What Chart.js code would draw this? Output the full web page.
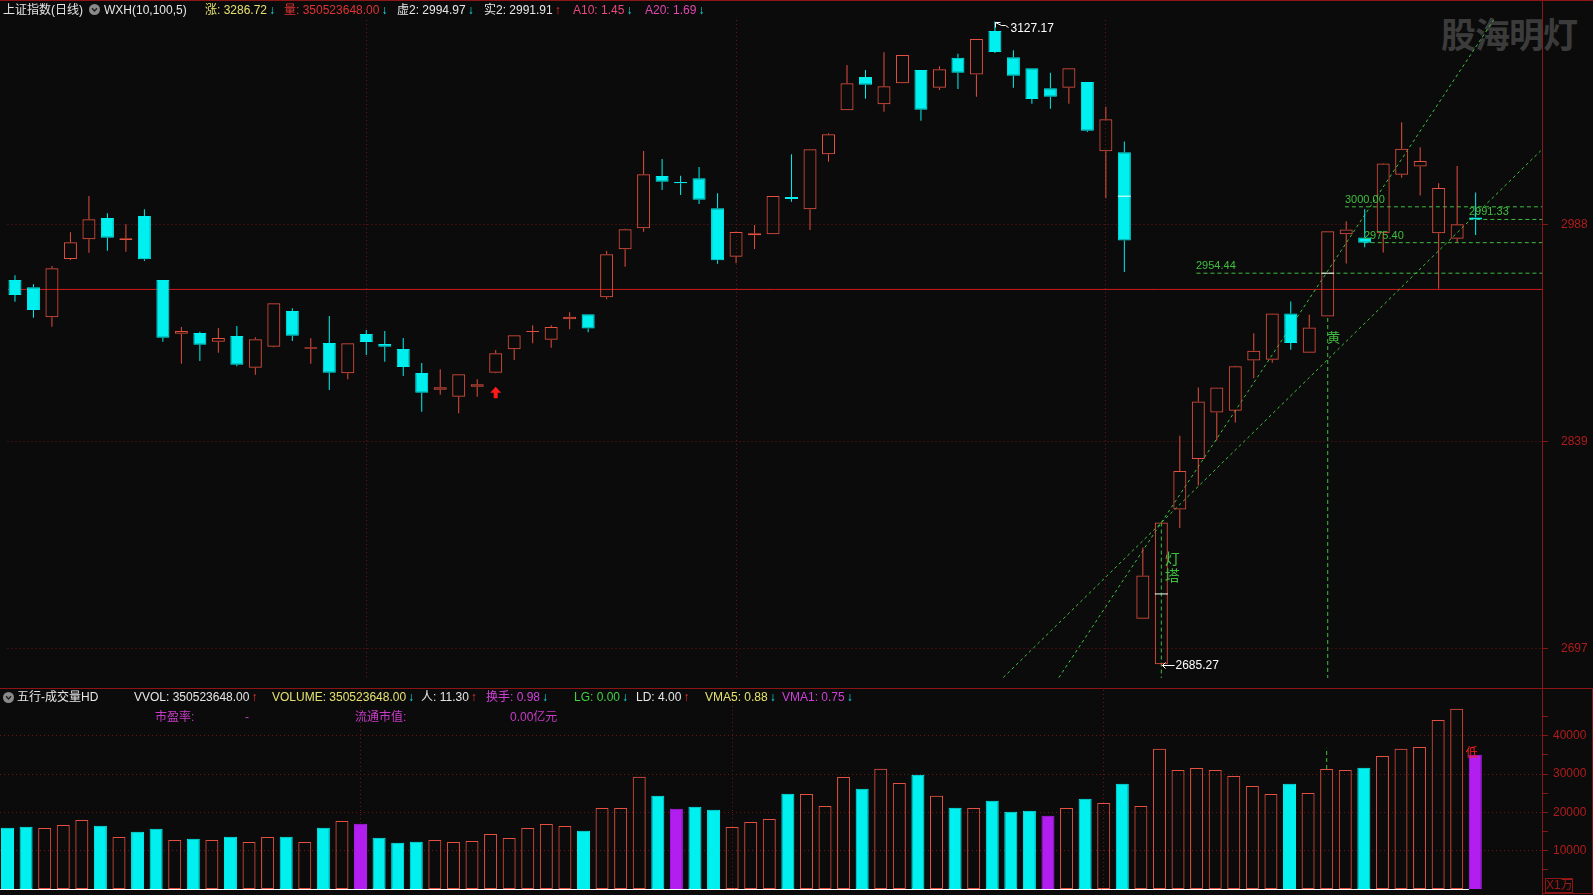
<!DOCTYPE html>
<html>
<head>
<meta charset="utf-8">
<script src="https://cdn.jsdelivr.net/npm/chart.js@4.4.1/dist/chart.umd.min.js"></script>
<style>
html,body{margin:0;padding:0;background:#0b0b0b;}
#wrap{position:relative;width:1593px;height:895px;overflow:hidden;background:#0b0b0b;font-family:"Liberation Sans","Noto Sans CJK SC",sans-serif;}
#wm{position:absolute;left:1441px;top:13px;font-weight:bold;font-size:35px;font-family:"Noto Sans CJK SC",sans-serif;color:#3b3b3b;letter-spacing:-1px;line-height:40px;z-index:0;}
canvas{position:absolute;left:0;z-index:1;}
.t{position:absolute;font-size:12px;line-height:14px;white-space:nowrap;z-index:2;}
.t i{font-style:normal;margin-left:2px;}
.dn{color:#10e8e8;}
.up{color:#ff3030;}
.ln{position:absolute;background:#8c1616;z-index:2;}
.ic{position:absolute;z-index:2;}
</style>
</head>
<body>
<div id="wrap">
  <div id="wm">股海明灯</div>
  <canvas id="main" width="1593" height="688" style="top:0;width:1593px;height:688px"></canvas>
  <canvas id="vol" width="1593" height="207" style="top:688px;width:1593px;height:207px"></canvas>

  <div class="ln" style="left:0;top:0;width:1593px;height:1px"></div>
  <div class="ln" style="left:0;top:688px;width:1593px;height:1px"></div>
  <div class="ln" style="left:1542px;top:0;width:1px;height:895px"></div>
  <div class="ln" style="left:1592px;top:688px;width:1px;height:206px"></div>
  <div class="ln" style="left:1542px;top:893px;width:51px;height:1px"></div>
  <div class="t" style="left:1545px;top:878px;width:26px;height:13px;line-height:13px;border:1px solid #8c1616;color:#a01818;font-size:12px;text-align:center">X1万</div>

  <!-- main header -->
  <span class="t" style="left:3px;top:3px;color:#e6e6e6">上证指数(日线)</span>
  <svg class="ic" style="left:89px;top:4px" width="11" height="11"><circle cx="5.5" cy="5.5" r="5.5" fill="#8a8a8a"/><polyline points="3,4.3 5.5,7 8,4.3" fill="none" stroke="#202020" stroke-width="1.5"/></svg>
  <span class="t" style="left:104px;top:3px;color:#e6e6e6">WXH(10,100,5)</span>
  <span class="t" style="left:205px;top:3px;color:#e6e070">涨: 3286.72<i class="dn">↓</i></span>
  <span class="t" style="left:284px;top:3px;color:#e03434">量: 350523648.00<i class="dn">↓</i></span>
  <span class="t" style="left:397px;top:3px;color:#e6e6e6">虚2: 2994.97<i class="dn">↓</i></span>
  <span class="t" style="left:484px;top:3px;color:#e6e6e6">实2: 2991.91<i class="up">↑</i></span>
  <span class="t" style="left:573px;top:3px;color:#e8487e">A10: 1.45<i class="dn">↓</i></span>
  <span class="t" style="left:645px;top:3px;color:#e048b0">A20: 1.69<i class="dn">↓</i></span>

  <!-- volume header -->
  <svg class="ic" style="left:3px;top:692px" width="11" height="11"><circle cx="5.5" cy="5.5" r="5.5" fill="#8a8a8a"/><polyline points="3,4.3 5.5,7 8,4.3" fill="none" stroke="#202020" stroke-width="1.5"/></svg>
  <span class="t" style="left:17px;top:690px;color:#e6e6e6">五行-成交量HD</span>
  <span class="t" style="left:134px;top:690px;color:#e6e6e6">VVOL: 350523648.00<i class="up">↑</i></span>
  <span class="t" style="left:272px;top:690px;color:#e6e070">VOLUME: 350523648.00<i class="dn">↓</i></span>
  <span class="t" style="left:421px;top:690px;color:#e6e6e6">人: 11.30<i class="up">↑</i></span>
  <span class="t" style="left:486px;top:690px;color:#d040d8">换手: 0.98<i class="dn">↓</i></span>
  <span class="t" style="left:574px;top:690px;color:#40d040">LG: 0.00<i class="dn">↓</i></span>
  <span class="t" style="left:636px;top:690px;color:#e6e6e6">LD: 4.00<i class="up">↑</i></span>
  <span class="t" style="left:705px;top:690px;color:#e6e070">VMA5: 0.88<i class="dn">↓</i></span>
  <span class="t" style="left:782px;top:690px;color:#d040d8">VMA1: 0.75<i class="dn">↓</i></span>
  <span class="t" style="left:155px;top:710px;color:#c83cc8">市盈率:</span>
  <span class="t" style="left:245px;top:710px;color:#c83cc8">-</span>
  <span class="t" style="left:355px;top:710px;color:#c83cc8">流通市值:</span>
  <span class="t" style="left:510px;top:710px;color:#c83cc8">0.00亿元</span>
</div>
<script>
// ---------------- data ----------------
const opens = [2949.8, 2944.8, 2924.2, 2964.2, 2977.7, 2992.3, 2977.2, 2993.7, 2949.8, 2912.9,
 2913.4, 2907.4, 2911.3, 2889.6, 2904.0, 2928.5, 2902.6, 2906.5, 2885.7, 2912.7,
 2905.8, 2902.4, 2885.9, 2874.5, 2869.7, 2876.5, 2886.2, 2902.2, 2914.1, 2908.8,
 2922.8, 2926.2, 2937.9, 2970.8, 2985.3, 3021.1, 3017.0, 3019.6, 2999.0, 2965.8,
 2980.5, 2981.1, 3006.7, 2998.3, 3036.0, 3066.2, 3089.1, 3070.4, 3084.8, 3093.9,
 3081.8, 3102.3, 3090.9, 3120.7, 3102.6, 3095.1, 3081.3, 3081.8, 3085.7, 3038.1,
 3037.5, 2717.3, 2686.0, 2792.3, 2827.0, 2858.8, 2860.0, 2894.5, 2895.1, 2926.8,
 2899.9, 2924.8, 2981.1, 2978.9, 2981.9, 3022.0, 3027.6, 2981.9, 2978.1, 2992.7];
const highs = [2953.0, 2946.8, 2959.4, 2982.5, 3007.4, 2995.5, 2988.0, 2998.3, 2949.8, 2917.5,
 2914.3, 2916.8, 2918.2, 2910.4, 2933.8, 2930.4, 2909.8, 2925.1, 2906.3, 2915.5,
 2914.8, 2910.0, 2892.8, 2888.5, 2885.1, 2881.6, 2901.7, 2911.8, 2918.7, 2918.7,
 2927.6, 2926.2, 2969.7, 2985.0, 3038.3, 3032.8, 3021.4, 3027.3, 3009.3, 2983.0,
 2987.5, 3007.4, 3036.0, 3039.5, 3050.5, 3097.3, 3093.9, 3106.0, 3104.2, 3093.9,
 3096.4, 3105.1, 3115.2, 3127.17, 3107.4, 3095.1, 3092.0, 3095.1, 3085.7, 3068.7,
 3044.9, 2766.1, 2783.3, 2842.8, 2876.0, 2876.0, 2891.0, 2913.3, 2927.0, 2935.0,
 2926.0, 2983.2, 2990.1, 2998.4, 3030.0, 3058.1, 3040.8, 3016.2, 3028.1, 3009.8];
const lows = [2934.9, 2923.9, 2917.7, 2963.5, 2968.5, 2969.9, 2969.2, 2962.8, 2907.4, 2892.3,
 2894.2, 2899.9, 2890.5, 2884.8, 2903.6, 2907.9, 2892.3, 2874.3, 2881.6, 2898.3,
 2893.7, 2883.9, 2859.4, 2871.1, 2858.3, 2869.7, 2885.7, 2894.9, 2906.3, 2903.3,
 2915.9, 2913.9, 2936.5, 2958.9, 2982.9, 3011.5, 3008.1, 3001.9, 2961.0, 2961.2,
 2971.0, 2981.1, 3003.5, 2984.1, 3031.0, 3066.2, 3074.2, 3065.3, 3084.8, 3059.1,
 3080.2, 3080.9, 3075.6, 3105.6, 3081.8, 3070.8, 3067.3, 3070.8, 3051.3, 3005.8,
 2955.3, 2717.3, 2685.27, 2779.6, 2808.7, 2839.7, 2851.9, 2882.4, 2893.0, 2901.9,
 2899.9, 2924.8, 2961.1, 2972.3, 2968.7, 3020.0, 3007.8, 2943.8, 2975.6, 2980.7];
const closes = [2939.5, 2929.2, 2957.8, 2975.6, 2991.4, 2978.8, 2978.4, 2964.0, 2910.2, 2914.8,
 2905.4, 2910.0, 2891.6, 2909.1, 2933.8, 2911.5, 2903.6, 2886.2, 2906.3, 2907.2,
 2904.0, 2890.1, 2872.4, 2876.1, 2885.1, 2878.2, 2899.5, 2911.8, 2914.8, 2917.5,
 2924.6, 2916.4, 2967.4, 2984.6, 3022.3, 3017.2, 3016.1, 3004.9, 2963.3, 2982.7,
 2981.8, 3007.4, 3005.4, 3039.5, 3049.8, 3084.8, 3083.8, 3082.7, 3104.2, 3066.6,
 3094.4, 3092.0, 3115.2, 3106.2, 3090.0, 3074.0, 3075.6, 3095.1, 3052.2, 3060.1,
 2976.8, 2747.0, 2783.3, 2818.7, 2866.4, 2876.0, 2890.5, 2901.2, 2926.8, 2906.5,
 2917.2, 2983.2, 2984.4, 2975.4, 3029.7, 3039.8, 3031.4, 3012.9, 2988.0, 2991.33];
const volumes = [16000, 16270, 15900, 16700, 18000, 16530, 13580, 14960, 15740, 12790,
 13130, 12790, 13660, 12270, 13580, 13660, 12270, 16000, 17750, 17050,
 13400, 12090, 12350, 12790, 12270, 12530, 14360, 13320, 15930, 16970,
 16450, 15220, 21150, 21150, 29320, 24360, 20970, 21490, 20700, 16190,
 17490, 18280, 24880, 24800, 21670, 29240, 26190, 31410, 27680, 29840,
 24360, 21230, 21150, 23050, 20180, 20440, 19140, 21150, 23580, 22450,
 27490, 21670, 36630, 31070, 31590, 31070, 29500, 26890, 24800, 27490,
 25060, 31330, 31070, 31670, 34730, 36630, 37080, 44130, 47070, 35070];
const purpleDays = [19, 36, 56, 79];

const priceTicks = [2697, 2839, 2988];
const volumeTicks = [5000, 10000, 15000, 20000, 25000, 30000, 35000, 40000, 45000];
const monthLineDays = [19, 39, 59];

const refLevel = 2943.3;
const levelValues = [2954.44, 3000.00, 2975.40, 2991.33];
const levelStartDays = [63.9, 71.93, 72.95, 78.66];
const trendSteepDays = [56.46, 79.97];
const trendSteepPrices = [2676.9, 3128.2];
const trendShallowDays = [53.45, 82.52];
const trendShallowPrices = [2676.9, 3038.5];
const markerDays = [60, 62, 71];
const markerPrices = [3007.3, 2734.3, 2954.44];
const guideDays = [62, 71];
const guideTopPrices = [2783.3, 2923.7];
const volGuideDay = 71;
const volGuideValues = [31330, 36890];
const noteTexts = ['黄', '灯', '塔'];
const noteDays = [71, 62, 62];
const notePrices = [2910.7, 2759.0, 2747.0];
const highDay = 53, highPrice = 3127.17;
const lowDay = 62, lowPrice = 2685.27;
const arrowDay = 26, arrowPrice = 2876.5;
const lowVolTextDay = 79;

// axis ranges
const xMin = -0.404, xMax = 82.589;
const yMin = 2676.61, yMax = 3128.22;
const vMax = 51958;

// ---------------- style ----------------
const RED = '#e4503f', CYAN = '#00f0f0', PURPLE = '#b21ef0';
const REFRED = '#cc1c1c', GREEN = '#3fbf3f';
const GRID = '#6e1616', AXIS = '#8c1616', LABEL = '#b01c1c';
Chart.defaults.font.family = '"Liberation Sans", "Noto Sans CJK SC", sans-serif';

const days = opens.map((_, i) => i);
const isUp = days.map(i => closes[i] >= opens[i]);
const candleColor = days.map(i => isUp[i] ? RED : CYAN);

function lineDS(xs, ys, color, dash, order) {
  return { type: 'line', data: xs.map((x, k) => ({ x: x, y: ys[k] })), borderColor: color,
    borderWidth: 1, borderDash: dash, pointRadius: 0, tension: 0, fill: false, order: order };
}
function fitY(s) { s.width = 51; s.paddingTop = 0; s.paddingBottom = 0; }
function fitX(s) { s.height = 0; s.paddingLeft = 0; s.paddingRight = 0; }

const mainDatasets = [
  { type: 'bar', data: days.map(i => ({ x: i, y: [opens[i], closes[i]] })),
    backgroundColor: days.map(i => isUp[i] ? 'rgba(0,0,0,0)' : CYAN), borderColor: candleColor,
    borderWidth: 1, borderSkipped: false, barThickness: 13, grouped: false, inflateAmount: 0, order: 1 },
  { type: 'bar', data: days.map(i => ({ x: i, y: [Math.max(opens[i], closes[i]), highs[i]] })),
    backgroundColor: candleColor, borderWidth: 0, barThickness: 1, grouped: false, inflateAmount: 0, order: 2 },
  { type: 'bar', data: days.map(i => ({ x: i, y: [lows[i], Math.min(opens[i], closes[i])] })),
    backgroundColor: candleColor, borderWidth: 0, barThickness: 1, grouped: false, inflateAmount: 0, order: 2 },
  { type: 'line', data: markerDays.map((d, k) => ({ x: d, y: markerPrices[k] })), showLine: false,
    pointStyle: 'line', pointRadius: 6.5, pointBorderColor: '#ffffff', pointBorderWidth: 1, order: 0 },
  lineDS([xMin, xMax], [refLevel, refLevel], REFRED, [], 5),
  lineDS(trendSteepDays, trendSteepPrices, GREEN, [3, 3], 4),
  lineDS(trendShallowDays, trendShallowPrices, GREEN, [3, 3], 4)
];
levelValues.forEach((v, k) => mainDatasets.push(lineDS([levelStartDays[k], xMax], [v, v], GREEN, [4, 3], 4)));
guideDays.forEach((d, k) => mainDatasets.push(lineDS([d, d], [guideTopPrices[k], yMin], GREEN, [4, 3], 4)));

const mainAnnot = {
  id: 'mainAnnot',
  afterDatasetsDraw(chart) {
    const { ctx, scales: { x, y } } = chart;
    ctx.save();
    ctx.fillStyle = GREEN;
    ctx.font = '11px "Liberation Sans", sans-serif';
    ctx.textAlign = 'left'; ctx.textBaseline = 'alphabetic';
    levelValues.forEach((v, k) => {
      ctx.fillText(v.toFixed(2), Math.round(x.getPixelForValue(levelStartDays[k])), Math.round(y.getPixelForValue(v)) - 4);
    });
    ctx.textAlign = 'center'; ctx.textBaseline = 'middle';
    noteTexts.forEach((t, k) => {
      ctx.font = (k === 0 ? 13 : 15) + 'px "Noto Sans CJK SC", sans-serif';
      ctx.fillText(t, x.getPixelForValue(noteDays[k]) + (k === 0 ? 6 : 11), y.getPixelForValue(notePrices[k]));
    });
    // high label
    ctx.strokeStyle = '#ffffff'; ctx.fillStyle = '#ffffff'; ctx.lineWidth = 1;
    const hx = Math.round(x.getPixelForValue(highDay)) + 0.5, hy = Math.round(y.getPixelForValue(highPrice)) + 0.5;
    ctx.beginPath();
    ctx.moveTo(hx, hy + 5); ctx.lineTo(hx, hy); ctx.lineTo(hx + 5, hy);
    ctx.moveTo(hx, hy); ctx.lineTo(hx + 6, hy + 3); ctx.lineTo(hx + 10, hy + 3); ctx.lineTo(hx + 13, hy + 5);
    ctx.stroke();
    ctx.font = '12px "Liberation Sans", sans-serif';
    ctx.textAlign = 'left'; ctx.textBaseline = 'middle';
    ctx.fillText(highPrice.toFixed(2), hx + 15, hy + 6);
    // low label
    const lx = Math.round(x.getPixelForValue(lowDay)) + 0.5, ly = Math.round(y.getPixelForValue(lowPrice)) + 0.5;
    ctx.beginPath();
    ctx.moveTo(lx + 13, ly); ctx.lineTo(lx + 1, ly);
    ctx.moveTo(lx + 1, ly); ctx.lineTo(lx + 4, ly - 3);
    ctx.moveTo(lx + 1, ly); ctx.lineTo(lx + 4, ly + 3);
    ctx.stroke();
    ctx.fillText(lowPrice.toFixed(2), lx + 14, ly);
    // red up arrow
    const ax = x.getPixelForValue(arrowDay), ay = y.getPixelForValue(arrowPrice);
    ctx.fillStyle = '#ff1a1a';
    ctx.beginPath();
    ctx.moveTo(ax, ay); ctx.lineTo(ax + 5.5, ay + 6); ctx.lineTo(ax + 2, ay + 6); ctx.lineTo(ax + 2, ay + 11.5);
    ctx.lineTo(ax - 2, ay + 11.5); ctx.lineTo(ax - 2, ay + 6); ctx.lineTo(ax - 5.5, ay + 6); ctx.closePath();
    ctx.fill();
    ctx.restore();
  }
};

new Chart(document.getElementById('main'), {
  type: 'bar',
  data: { datasets: mainDatasets },
  options: {
    responsive: false, animation: false, devicePixelRatio: 1, events: [],
    layout: { padding: { top: 20, bottom: 10, left: 0, right: 0 } },
    plugins: { legend: { display: false }, tooltip: { enabled: false } },
    scales: {
      x: { type: 'linear', min: xMin, max: xMax, offset: false,
        afterBuildTicks: s => { s.ticks = monthLineDays.map(v => ({ value: v })); },
        afterFit: fitX,
        ticks: { display: false },
        grid: { color: GRID, drawTicks: false, offset: false, lineWidth: 1 },
        border: { display: false, dash: [1, 3] } },
      y: { type: 'linear', position: 'right', min: yMin, max: yMax,
        afterBuildTicks: s => { s.ticks = priceTicks.map(v => ({ value: v })); },
        afterFit: fitY,
        ticks: { color: LABEL, font: { size: 12 }, padding: 13, callback: v => String(v) },
        grid: { color: GRID, tickColor: AXIS, tickLength: 6, lineWidth: 1 },
        border: { display: true, color: AXIS, width: 1, dash: [1, 3] } }
    }
  },
  plugins: [mainAnnot]
});

// ---------------- volume ----------------
const volFill = days.map(i => purpleDays.includes(i) ? PURPLE : (isUp[i] ? 'rgba(0,0,0,0)' : CYAN));
const volBorder = days.map(i => purpleDays.includes(i) ? PURPLE : (isUp[i] ? RED : CYAN));

const volAnnot = {
  id: 'volAnnot',
  afterDatasetsDraw(chart) {
    const { ctx, scales: { x, y }, chartArea } = chart;
    ctx.save();
    const by = Math.round(y.getPixelForValue(0)) + 0.5;
    ctx.strokeStyle = '#ffffff'; ctx.lineWidth = 1;
    ctx.beginPath(); ctx.moveTo(chartArea.left, by); ctx.lineTo(x.getPixelForValue(days.length - 1) - 6.5, by); ctx.stroke();
    ctx.fillStyle = '#ff2020';
    ctx.font = '12px "Noto Sans CJK SC", sans-serif';
    ctx.textAlign = 'center'; ctx.textBaseline = 'middle';
    ctx.fillText('低', x.getPixelForValue(lowVolTextDay) - 3.5, y.getPixelForValue(volumes[lowVolTextDay]) - 2);
    ctx.restore();
  }
};

new Chart(document.getElementById('vol'), {
  type: 'bar',
  data: { datasets: [
    { type: 'bar', data: days.map(i => ({ x: i, y: volumes[i] })), backgroundColor: volFill, borderColor: volBorder,
      borderWidth: 1, borderSkipped: false, barThickness: 13, grouped: false, inflateAmount: 0, order: 1 },
    lineDS([volGuideDay, volGuideDay], volGuideValues, GREEN, [4, 3], 2)
  ] },
  options: {
    responsive: false, animation: false, devicePixelRatio: 1, events: [],
    layout: { padding: { top: 2, bottom: 6, left: 0, right: 0 } },
    plugins: { legend: { display: false }, tooltip: { enabled: false } },
    scales: {
      x: { type: 'linear', min: xMin, max: xMax, offset: false,
        afterBuildTicks: s => { s.ticks = monthLineDays.map(v => ({ value: v })); },
        afterFit: fitX,
        ticks: { display: false },
        grid: { color: GRID, drawTicks: false, offset: false },
        border: { display: false, dash: [1, 3] } },
      y: { type: 'linear', position: 'right', min: 0, max: vMax,
        afterBuildTicks: s => { s.ticks = volumeTicks.map(v => ({ value: v })); },
        afterFit: fitY,
        ticks: { color: LABEL, font: { size: 12 }, padding: 5, autoSkip: false,
          callback: v => (v % 10000 === 0 ? String(v) : '') },
        grid: { color: c => (c.tick && c.tick.value % 10000 === 0 ? GRID : 'rgba(0,0,0,0)'),
          tickColor: AXIS, tickLength: 6 },
        border: { display: true, color: AXIS, width: 1, dash: [1, 3] } }
    }
  },
  plugins: [volAnnot]
});
</script>
</body>
</html>
